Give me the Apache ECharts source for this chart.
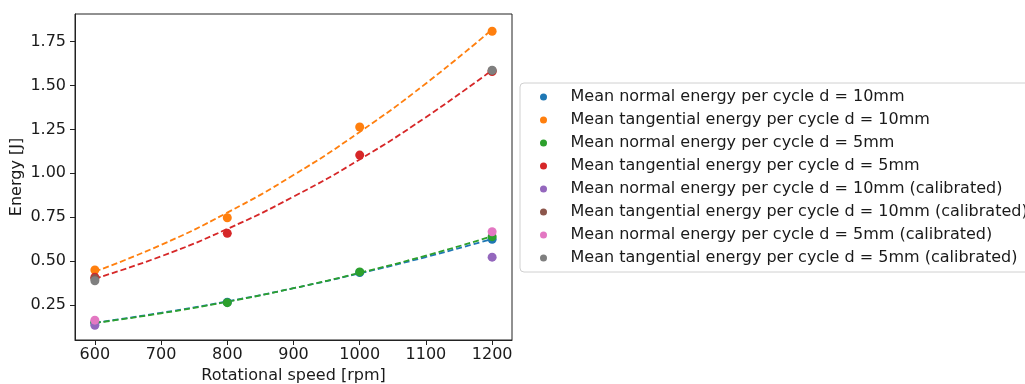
<!DOCTYPE html>
<html>
<head>
<meta charset="utf-8">
<script src="https://cdn.jsdelivr.net/npm/echarts@6/dist/echarts.min.js"></script>
<style>
  html, body { margin: 0; padding: 0; background: #fff; }
  #chart { width: 1025px; height: 384px; }
</style>
</head>
<body>
<div id="chart"></div>
<script>
// Rotational speeds (rpm) at which the energy was measured
const speeds = [600, 800, 1000, 1200];

// Measured mean energy per cycle [J]; calibrated runs exist only at 600 and 1200 rpm
const normal10 = [0.150, 0.265, 0.435, 0.624];
const tangential10 = [0.449, 0.747, 1.264, 1.810];
const normal5 = [0.149, 0.263, 0.438, 0.639];
const tangential5 = [0.408, 0.658, 1.104, 1.580];
const normal10Cal = [0.134, null, null, 0.522];
const tangential10Cal = [0.400, null, null, 1.585];
const normal5Cal = [0.163, null, null, 0.667];
const tangential5Cal = [0.388, null, null, 1.588];

// Quadratic trend curves, sampled every 100 rpm
const fitSpeeds = [600, 700, 800, 900, 1000, 1100, 1200];
const fitNormal10 = [0.148, 0.205, 0.270, 0.345, 0.430, 0.523, 0.626];
const fitTangential10 = [0.440, 0.592, 0.776, 0.990, 1.236, 1.512, 1.820];
const fitNormal5 = [0.147, 0.202, 0.268, 0.345, 0.433, 0.531, 0.641];
const fitTangential5 = [0.400, 0.527, 0.683, 0.867, 1.079, 1.320, 1.588];

// Tick positions
const xTicks = [600, 700, 800, 900, 1000, 1100, 1200];
const yTicks = [0.25, 0.50, 0.75, 1.00, 1.25, 1.50, 1.75];

const names = [
  'Mean normal energy per cycle d = 10mm',
  'Mean tangential energy per cycle d = 10mm',
  'Mean normal energy per cycle d = 5mm',
  'Mean tangential energy per cycle d = 5mm',
  'Mean normal energy per cycle d = 10mm (calibrated)',
  'Mean tangential energy per cycle d = 10mm (calibrated)',
  'Mean normal energy per cycle d = 5mm (calibrated)',
  'Mean tangential energy per cycle d = 5mm (calibrated)'
];
const colors = ['#1f77b4', '#ff7f0e', '#2ca02c', '#d62728', '#9467bd', '#8c564b', '#e377c2', '#7f7f7f'];
const measured = [normal10, tangential10, normal5, tangential5, normal10Cal, tangential10Cal, normal5Cal, tangential5Cal];

const fits = [
  { values: fitNormal10, color: colors[0] },
  { values: fitTangential10, color: colors[1] },
  { values: fitNormal5, color: colors[2] },
  { values: fitTangential5, color: colors[3] }
];

const font = 'DejaVu Sans';
const ink = '#1a1a1a';

const series = [];
fits.forEach((f, i) => {
  series.push({
    name: 'fit' + i,
    type: 'line',
    data: fitSpeeds.map((s, k) => [s, f.values[k]]),
    smooth: true,
    showSymbol: false,
    silent: true,
    z: 2,
    lineStyle: { color: f.color, width: 1.8, type: [6, 3] }
  });
});
measured.forEach((vals, i) => {
  series.push({
    name: names[i],
    type: 'scatter',
    data: speeds.map((s, k) => vals[k] == null ? null : [s, vals[k]]).filter(d => d),
    symbolSize: 9,
    z: 3 + i,
    itemStyle: { color: colors[i], opacity: 1 }
  });
});

const chart = echarts.init(document.getElementById('chart'), null, { renderer: 'canvas' });
chart.setOption({
  animation: false,
  backgroundColor: '#fff',
  color: colors,
  textStyle: { fontFamily: font },
  grid: {
    left: 75, right: 513, top: 14, bottom: 44,
    containLabel: false,
    outerBoundsMode: 'none',
    show: true, borderColor: '#222', borderWidth: 1
  },
  legend: {
    data: names,
    orient: 'vertical',
    left: 520, top: 83,
    padding: [5, 10, 5, 20],
    itemGap: 5,
    itemWidth: 44, itemHeight: 7,
    icon: 'circle',
    borderColor: '#d0d0d0', borderWidth: 1, borderRadius: 4,
    backgroundColor: '#fff',
    textStyle: { fontFamily: font, fontSize: 16, color: ink, lineHeight: 18 }
  },
  xAxis: {
    type: 'value',
    min: 570, max: 1230,
    name: 'Rotational speed [rpm]',
    nameLocation: 'middle',
    nameGap: 27,
    nameTextStyle: { fontFamily: font, fontSize: 16, color: ink },
    axisLine: { show: true, onZero: false, lineStyle: { color: '#222', width: 1 } },
    axisTick: { show: true, inside: false, length: 5, customValues: xTicks, lineStyle: { color: '#222' } },
    axisLabel: {
      customValues: xTicks, margin: 7, fontFamily: font, fontSize: 16, color: ink,
      formatter: v => String(v)
    },
    splitLine: { show: false }
  },
  yAxis: {
    type: 'value',
    min: 0.05, max: 1.908,
    name: 'Energy [J]',
    nameLocation: 'middle',
    nameGap: 50,
    nameRotate: 90,
    nameTextStyle: { fontFamily: font, fontSize: 16, color: ink },
    axisLine: { show: true, onZero: false, lineStyle: { color: '#222', width: 1 } },
    axisTick: { show: true, inside: false, length: 5, customValues: yTicks, lineStyle: { color: '#222' } },
    axisLabel: {
      customValues: yTicks, margin: 9, fontFamily: font, fontSize: 16, color: ink,
      formatter: v => v.toFixed(2)
    },
    splitLine: { show: false }
  },
  series: series
});
</script>
</body>
</html>
